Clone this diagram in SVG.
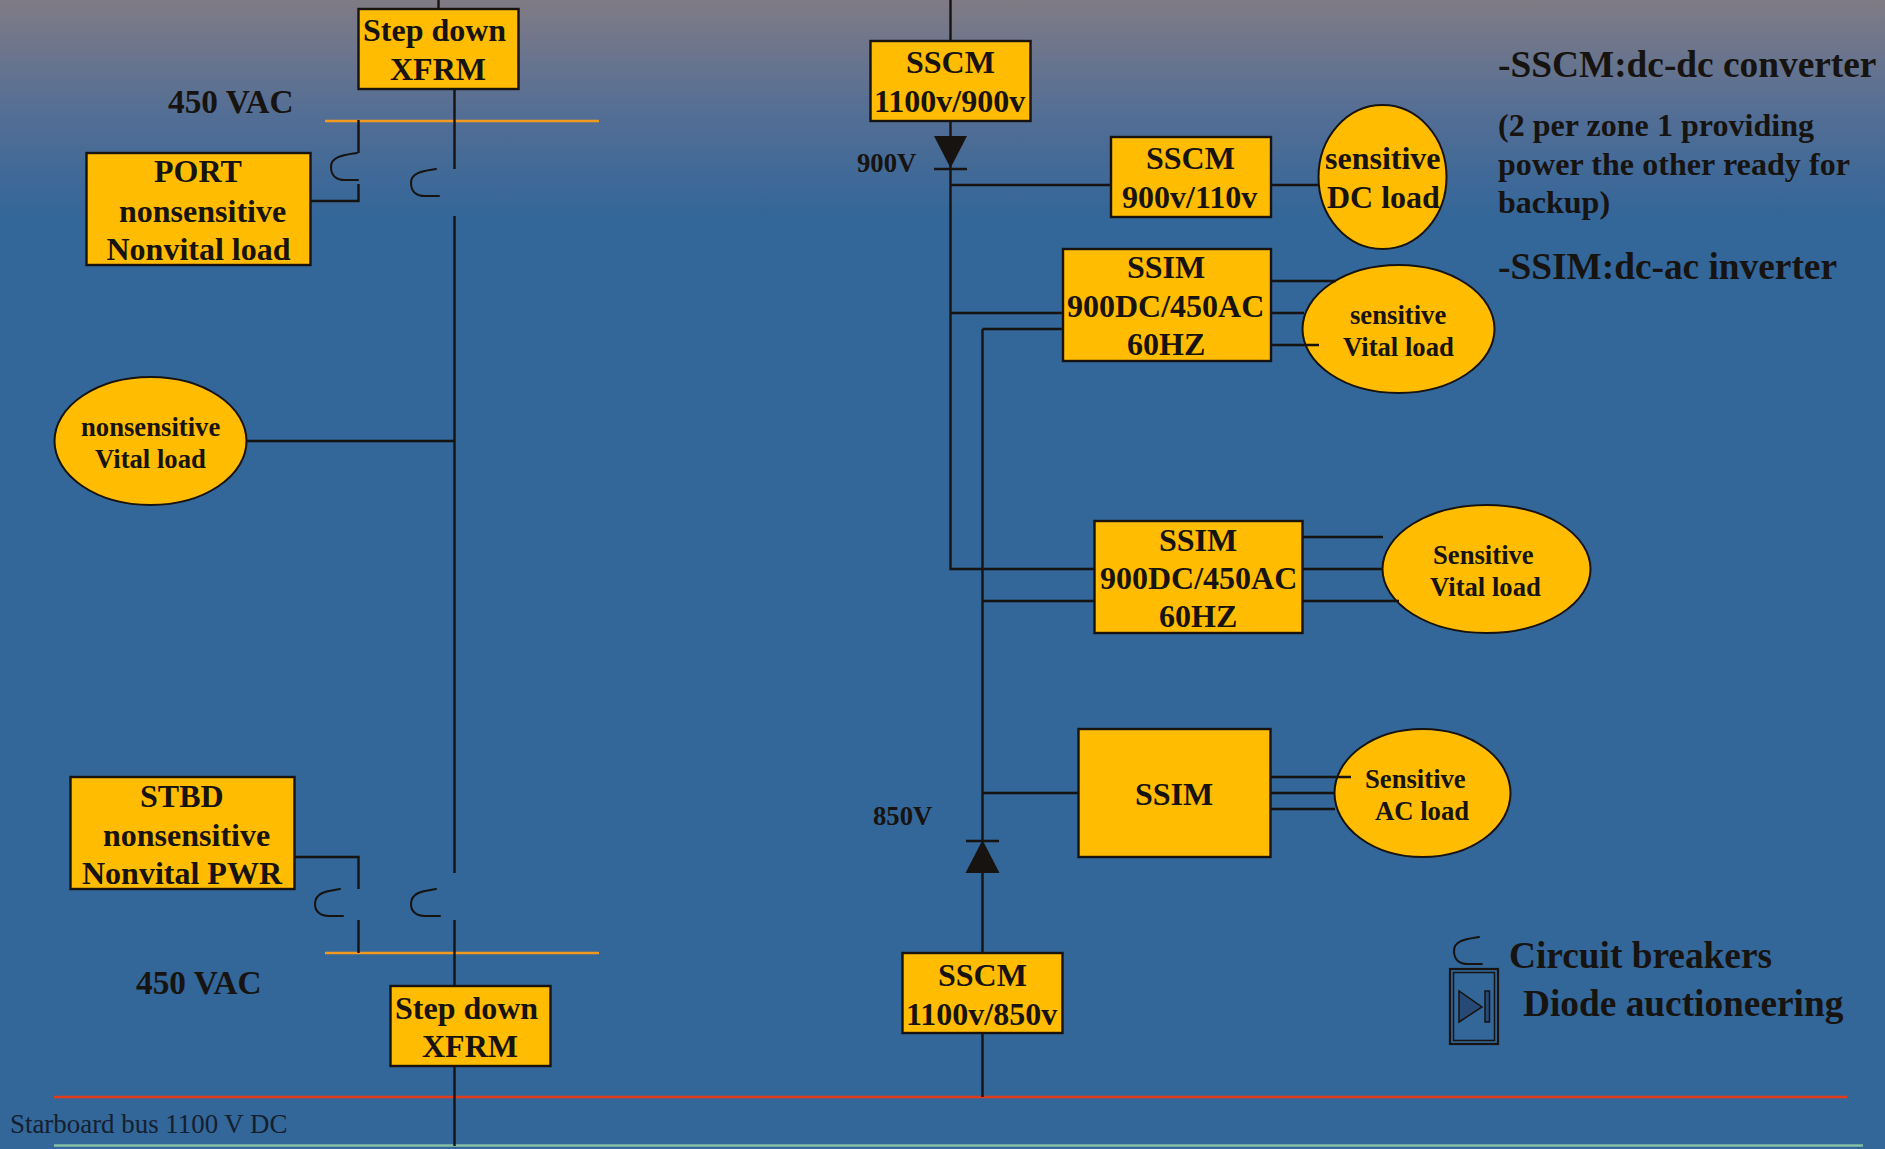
<svg xmlns="http://www.w3.org/2000/svg" width="1885" height="1149" viewBox="0 0 1885 1149">
<style>
text{font-family:"Liberation Serif","Times New Roman",serif;font-weight:bold;fill:#161310}
.f32{font-size:32px}.f33{font-size:33.3px}.f27{font-size:26.67px}.f37{font-size:37.33px}
.reg{font-weight:normal;fill:#14202e;font-size:26.9px}
.box{fill:#ffbc00;stroke:#161310;stroke-width:2.4}
.oval{fill:#ffbc00;stroke:#161310;stroke-width:2}
.w{fill:none;stroke:#161310;stroke-width:2.4}
.cb{fill:none;stroke:#161310;stroke-width:2;stroke-linecap:round}
.ac{fill:none;stroke:#f39a1e;stroke-width:2.4}
.d{fill:#161310}
</style>
<defs>
<linearGradient id="bg" x1="0" y1="0" x2="0" y2="1">
<stop offset="0" stop-color="#807b85"/>
<stop offset="0.1" stop-color="#536e95"/>
<stop offset="0.19" stop-color="#336699"/>
<stop offset="1" stop-color="#336699"/>
</linearGradient>
</defs>
<rect width="1885" height="1149" fill="url(#bg)"/>

<g id="stepdown-top"><rect class="box" x="358.500" y="9" width="160" height="80"/><text class="f32" x="363" y="41">Step down</text><text class="f32" x="390" y="79.500">XFRM</text></g>
<g id="sscm-1100-900"><rect class="box" x="870.500" y="41" width="160" height="80"/><text class="f32" x="906" y="73">SSCM</text><text class="f32" x="874" y="112">1100v/900v</text></g>
<g id="sscm-900-110"><rect class="box" x="1111" y="137" width="160" height="80"/><text class="f32" x="1146" y="169">SSCM</text><text class="f32" x="1122" y="208">900v/110v</text></g>
<g id="dc-load"><ellipse class="oval" cx="1382.500" cy="177" rx="64" ry="72"/><text class="f32" x="1325" y="169">sensitive</text><text class="f32" x="1327" y="208">DC load</text></g>
<g id="ssim-1"><rect class="box" x="1063" y="249" width="208" height="112"/><text class="f32" x="1127" y="278">SSIM</text><text class="f32" x="1067" y="317">900DC/450AC</text><text class="f32" x="1127" y="355">60HZ</text></g>
<g id="vital-1"><ellipse class="oval" cx="1398.500" cy="329" rx="96" ry="64"/><text class="f27" x="1350" y="323.500">sensitive</text><text class="f27" x="1343" y="355.500">Vital load</text></g>
<g id="ssim-2"><rect class="box" x="1094.500" y="521" width="208" height="112"/><text class="f32" x="1159" y="551">SSIM</text><text class="f32" x="1100" y="589">900DC/450AC</text><text class="f32" x="1159" y="627">60HZ</text></g>
<g id="vital-2"><ellipse class="oval" cx="1486.500" cy="569" rx="104" ry="64"/><text class="f27" x="1433" y="563.500">Sensitive</text><text class="f27" x="1430" y="595.500">Vital load</text></g>
<g id="ssim-3"><rect class="box" x="1078.500" y="729" width="192" height="128"/><text class="f32" x="1135" y="805">SSIM</text></g>
<g id="ac-load"><ellipse class="oval" cx="1422.500" cy="793" rx="88" ry="64"/><text class="f27" x="1365" y="787.500">Sensitive</text><text class="f27" x="1375" y="819.500">AC load</text></g>
<g id="sscm-1100-850"><rect class="box" x="902.500" y="953" width="160" height="80"/><text class="f32" x="938" y="986">SSCM</text><text class="f32" x="906" y="1025">1100v/850v</text></g>
<g id="stepdown-bottom"><rect class="box" x="390.500" y="986" width="160" height="80"/><text class="f32" x="395" y="1018.500">Step down</text><text class="f32" x="422" y="1056.500">XFRM</text></g>
<g id="port-load"><rect class="box" x="86.500" y="153" width="224" height="112"/><text class="f32" x="154" y="182">PORT</text><text class="f32" x="119" y="221.500">nonsensitive</text><text class="f32" x="106.500" y="259.500">Nonvital load</text></g>
<g id="stbd-load"><rect class="box" x="70.500" y="777" width="224" height="112"/><text class="f32" x="140" y="807">STBD</text><text class="f32" x="103" y="845.500">nonsensitive</text><text class="f32" x="82" y="883.500">Nonvital PWR</text></g>
<g id="nonsensitive-vital"><ellipse class="oval" cx="150.500" cy="441" rx="96" ry="64"/><text class="f27" x="81" y="435.500">nonsensitive</text><text class="f27" x="95" y="467.500">Vital load</text></g>

<g id="connectors">
<line x1="54" y1="1097" x2="1847" y2="1097" stroke="#e23d1b" stroke-width="2.4"/>
<line x1="54" y1="1145.500" x2="1863" y2="1145.500" stroke="#86bfa6" stroke-width="2.4"/>
<line class="ac" x1="325" y1="121" x2="599" y2="121"/>
<line class="ac" x1="325" y1="953" x2="599" y2="953"/>
<path class="w" d="M438.500 0V9M454.500 89V169M454.500 216V873M454.500 920V986M454.500 1066V1146"/>
<path class="w" d="M358.500 120V153M358.500 184V201H310M294 857H358.500V889M358.500 920V953"/>
<path class="w" d="M246 441H454"/>
<path class="cb" d="M357 153C345 155 331 156 331 167C331 176 337 180 345 180H358"/>
<path class="cb" d="M436 169C424 171 411 172 411 183C411 192 417 196 425 196H439"/>
<path class="cb" d="M340 889C328 891 315 892 315 904C315 912 321 916 329 916H343"/>
<path class="cb" d="M436 889C424 891 411 892 411 904C411 912 417 916 425 916H440"/>
<path class="w" d="M950.500 0V41M950.500 121V569H1094M950.500 185H1111M1271 185H1319M950.500 313H1063M982.500 329H1063M982.500 329V841M982.500 873V953M982.500 1033V1097M982.500 601H1094M982.500 793H1078"/>
<path class="w" d="M1271 281H1336M1271 313H1304M1271 345H1319M1302 537H1383M1302 569H1383M1302 601H1399M1271 777H1351M1271 793H1335M1271 809H1335"/>
<path class="d" d="M934 136H967L950.500 168Z"/>
<line class="w" x1="934" y1="169" x2="967" y2="169"/>
<path class="d" d="M965.500 873H999.500L982.500 840Z"/>
<line class="w" x1="966" y1="841" x2="999" y2="841"/>
</g>

<g id="labels">
<text class="f33" x="168" y="113">450 VAC</text>
<text class="f33" x="136" y="994">450 VAC</text>
<text class="f27" x="857" y="172">900V</text>
<text class="f27" x="873" y="825">850V</text>
<text class="reg" x="10" y="1133">Starboard bus 1100 V DC</text>
<text class="f37" x="1498" y="77">-SSCM:dc-dc converter</text>
<text class="f32" x="1498" y="136" textLength="316">(2 per zone 1 providing</text>
<text class="f32" x="1498" y="175" textLength="352">power the other ready for</text>
<text class="f32" x="1498" y="213">backup)</text>
<text class="f37" x="1498" y="279">-SSIM:dc-ac inverter</text>
</g>

<g id="legend">
<path class="cb" d="M1479 937C1467 939 1454 940 1454 951C1454 960 1460 964 1468 964H1482"/>
<rect x="1450" y="969" width="48" height="75" fill="none" stroke="#161310" stroke-width="2.200"/>
<rect x="1453.500" y="972.500" width="41" height="68" fill="none" stroke="#161310" stroke-width="1.500"/>
<path d="M1459 991V1022L1482 1007Z" fill="#264a75" stroke="#161310" stroke-width="1.500"/>
<rect x="1485" y="991" width="4.500" height="31" fill="#264a75" stroke="#161310" stroke-width="1.500"/>
<text class="f37" x="1509" y="968">Circuit breakers</text>
<text class="f37" x="1523" y="1015.500">Diode auctioneering</text>
</g>
</svg>
